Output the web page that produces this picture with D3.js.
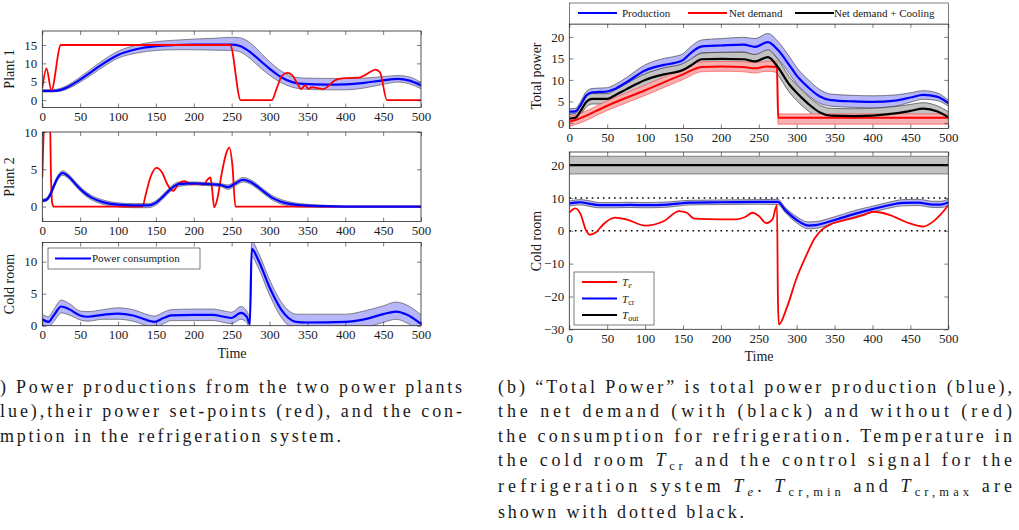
<!DOCTYPE html>
<html>
<head>
<meta charset="utf-8">
<script src="https://cdn.jsdelivr.net/npm/d3@7"></script>
<style>
    body { margin: 0; background: #fff; }
    svg text { fill: #1a1a1a; font-family: "Liberation Serif", "Times New Roman", serif; }
    .axis text { font-size: 13px; }
    .axis line { stroke: #262626; stroke-width: 0.6; }
    .axis path { display: none; }
    .frame { fill: none; stroke: #262626; stroke-width: 0.8; }
    .label { font-size: 14px; }
    .legend text { font-size: 11px; }
    .caption { font-size: 18px; }
</style>
</head>
<body>
<script>
/* global d3 */

var width = 1019;
var height = 530;

var xTicks = [0, 50, 100, 150, 200, 250, 300, 350, 400, 450, 500];

// Plant 1: production (mean + band) and set-point
var p1Time = [0, 10, 20, 30, 40, 50, 60, 75, 100, 125, 150, 175, 200, 225, 250, 260, 275, 290, 300, 315, 330, 345, 375, 400, 425, 450, 470, 485, 500];
var p1Mean = [2.5, 2.5, 2.6, 3.2, 4.3, 5.6, 7.0, 9.2, 12.3, 13.9, 14.7, 15.0, 15.1, 15.1, 15.1, 14.8, 13.0, 10.3, 8.6, 6.3, 4.9, 4.4, 4.2, 4.3, 4.7, 5.4, 5.8, 5.3, 4.0];
var p1Up = [2.8, 2.8, 3.0, 3.7, 4.9, 6.3, 7.8, 10.1, 13.3, 15.0, 15.9, 16.3, 16.6, 16.8, 17.1, 17.0, 15.5, 12.5, 10.5, 8.0, 6.4, 6.0, 5.9, 5.9, 6.0, 6.4, 6.7, 6.3, 4.8];
var p1Lo = [2.2, 2.2, 2.3, 2.8, 3.7, 4.9, 6.2, 8.3, 11.4, 12.8, 13.5, 13.7, 13.7, 13.6, 13.5, 13.2, 11.2, 8.4, 6.8, 4.8, 3.5, 3.0, 2.8, 2.8, 3.3, 4.3, 4.9, 4.4, 3.1];
var p1SetTime = [0, 5.5, 12, 24.5, 248, 262, 303, 310, 316, 323, 330, 336, 342, 347, 351, 356, 362, 371, 378, 385, 392, 402, 418, 426, 433, 440, 446, 455, 500];
var p1Set = [3.3, 8.6, 2.7, 15, 15, 0, 0, 3.5, 6.5, 7.4, 6.8, 4.8, 3.0, 4.1, 3.1, 3.5, 3.3, 3.0, 3.9, 5.2, 5.8, 6.0, 6.1, 6.8, 7.7, 8.3, 7.5, 0, 0];

// Plant 2
var p2Time = [0, 5, 10, 15, 20, 27, 35, 45, 55, 65, 80, 100, 120, 140, 150, 160, 170, 180, 200, 220, 235, 245, 255, 265, 275, 290, 305, 320, 340, 370, 400, 500];
var p2Mean = [0.8, 0.9, 1.5, 2.7, 3.8, 4.5, 4.0, 2.9, 1.9, 1.2, 0.6, 0.25, 0.15, 0.15, 0.5, 1.4, 2.4, 3.0, 3.1, 3.0, 2.9, 2.6, 3.1, 3.6, 3.3, 2.2, 1.1, 0.5, 0.2, 0.05, 0, 0];
var p2Up = [1.0, 1.1, 1.8, 3.0, 4.1, 4.8, 4.3, 3.2, 2.2, 1.5, 0.9, 0.5, 0.4, 0.4, 0.8, 1.7, 2.7, 3.3, 3.3, 3.2, 3.1, 2.9, 3.4, 3.9, 3.6, 2.5, 1.4, 0.8, 0.4, 0.2, 0.05, 0.05];
var p2Lo = [0.6, 0.7, 1.2, 2.4, 3.5, 4.2, 3.7, 2.6, 1.6, 0.9, 0.3, -0.05, -0.15, -0.15, 0.2, 1.1, 2.1, 2.7, 2.9, 2.8, 2.7, 2.3, 2.8, 3.3, 3.0, 1.9, 0.8, 0.2, -0.05, -0.1, -0.05, -0.05];
var p2SetTime = [0, 1.5, 3, 10, 11.5, 13, 15, 132, 137, 143, 151, 158, 165, 173, 180, 188, 197, 206, 213, 218, 222, 224, 227, 231, 237, 243, 247, 251, 255, 500];
var p2Set = [3.9, 9, 12, 12, 4, 0.5, 0, 0, 1.8, 4.0, 5.2, 4.6, 3.0, 2.1, 3.1, 3.4, 3.0, 3.1, 2.9, 3.6, 3.9, 2.5, -0.1, 1.0, 4.5, 7.2, 7.9, 5.5, 0, 0];

// Cold room power consumption
var crpTime = [0, 8, 15, 25, 35, 50, 60, 80, 100, 120, 140, 148, 160, 170, 200, 225, 240, 250, 262, 270, 274, 276.5, 285, 300, 315, 325, 335, 350, 400, 425, 450, 467, 480, 500];
var crpMean = [1.0, 0.6, 1.6, 3.0, 2.6, 1.6, 1.4, 1.7, 1.9, 1.6, 0.8, 0.6, 1.2, 1.6, 1.7, 1.7, 1.4, 1.2, 2.0, 1.4, 0.3, 12.0, 10.3, 6.0, 2.6, 1.2, 0.6, 0.5, 0.6, 1.0, 1.8, 2.2, 1.8, 0.3];
var crpUp = [1.8, 1.4, 2.5, 4.0, 3.5, 2.3, 2.2, 2.5, 2.8, 2.5, 1.7, 1.5, 2.1, 2.5, 2.6, 2.6, 2.3, 2.1, 3.0, 2.3, 1.4, 13.2, 11.5, 7.2, 3.8, 2.4, 1.8, 1.8, 1.8, 2.3, 3.1, 3.7, 3.3, 1.7];
var crpLo = [0.2, -0.2, 0.6, 2.0, 1.7, 0.9, 0.7, 1.0, 1.0, 0.7, -0.1, -0.3, 0.3, 0.8, 0.8, 0.8, 0.5, 0.3, 1.0, 0.5, -0.8, 10.8, 9.1, 4.8, 1.4, 0, -0.6, -0.8, -0.6, -0.3, 0.5, 1.0, 0.5, -1.0];

// Total power: production
var prodTime = [0, 8, 15, 22, 30, 40, 50, 60, 75, 100, 125, 140, 150, 160, 175, 200, 230, 245, 262, 275, 290, 300, 315, 330, 345, 375, 400, 430, 450, 467, 485, 500];
var prodMean = [2.6, 2.7, 4.2, 6.3, 7.1, 7.2, 7.3, 7.9, 9.4, 12.2, 13.5, 14.0, 14.6, 16.2, 17.8, 18.0, 18.2, 17.7, 18.8, 17.0, 13.5, 11.0, 8.3, 6.2, 5.3, 5.0, 4.9, 5.2, 5.9, 6.5, 6.1, 4.6];
var prodUp = [3.3, 3.4, 5.0, 7.2, 8.0, 8.1, 8.2, 8.9, 10.5, 13.5, 15.0, 15.5, 16.1, 17.7, 19.3, 19.6, 19.9, 19.6, 20.8, 19.0, 15.5, 12.9, 10.1, 7.8, 6.7, 6.4, 6.3, 6.5, 7.0, 7.5, 7.0, 5.3];
var prodLo = [1.9, 2.0, 3.4, 5.4, 6.2, 6.3, 6.4, 6.9, 8.3, 10.9, 12.0, 12.5, 13.1, 14.7, 16.3, 16.4, 16.5, 15.8, 16.8, 15.0, 11.5, 9.1, 6.5, 4.6, 3.9, 3.6, 3.5, 3.9, 4.8, 5.5, 5.2, 3.9];

// Total power: net demand + cooling
var coolTime = [0, 8, 15, 22, 30, 40, 50, 60, 75, 100, 125, 150, 160, 175, 200, 230, 245, 262, 275, 290, 300, 315, 330, 345, 375, 400, 430, 450, 467, 485, 500];
var coolMean = [1.0, 1.2, 2.8, 4.8, 5.6, 5.6, 5.6, 6.4, 7.8, 10.0, 11.3, 12.3, 13.3, 14.8, 14.9, 14.8, 14.3, 15.3, 13.0, 9.0, 7.0, 4.5, 2.5, 1.7, 1.6, 1.7, 2.2, 2.8, 3.3, 2.7, 1.3];
var coolUp = [2.0, 2.2, 3.9, 6.0, 6.8, 6.8, 6.8, 7.6, 9.1, 11.4, 12.8, 13.8, 14.8, 16.2, 16.4, 16.4, 15.9, 17.0, 14.8, 10.8, 8.8, 6.2, 4.2, 3.4, 3.3, 3.4, 3.8, 4.3, 4.7, 4.0, 2.6];
var coolLo = [0.0, 0.2, 1.8, 3.6, 4.4, 4.4, 4.4, 5.2, 6.5, 8.6, 9.8, 10.8, 11.8, 13.3, 13.4, 13.3, 12.7, 13.6, 11.2, 7.2, 5.2, 2.8, 0.8, 0.0, -0.1, 0.0, 0.6, 1.3, 1.9, 1.4, 0.0];

// Total power: net demand
var netTime = [0, 10, 50, 100, 150, 175, 200, 230, 245, 260, 274, 275.5, 500];
var netMean = [0.3, 0.8, 4.0, 7.6, 11.3, 13.0, 13.1, 13.0, 12.7, 13.1, 13.0, 1.2, 1.2];
var netUp = [1.3, 1.9, 5.1, 8.8, 12.5, 14.2, 14.3, 14.2, 14.0, 14.3, 14.3, 2.1, 2.1];
var netLo = [-0.8, -0.3, 2.9, 6.4, 10.1, 11.9, 12.0, 11.9, 11.6, 12.0, 11.8, -0.3, -0.3];

// Cold room temperatures
var tcrTime = [0, 8, 15, 25, 40, 60, 80, 100, 130, 160, 200, 250, 275, 285, 300, 315, 325, 340, 360, 380, 400, 420, 440, 460, 480, 490, 500];
var tcrMean = [8.3, 8.6, 8.7, 8.3, 7.8, 7.8, 7.9, 7.8, 8.0, 8.6, 8.7, 8.8, 8.8, 6.3, 3.3, 1.6, 1.7, 2.6, 4.0, 5.4, 6.6, 7.7, 8.5, 8.6, 8.0, 8.0, 8.6];
var tcrUp = [9.1, 9.4, 9.5, 9.2, 8.6, 8.6, 8.7, 8.6, 8.8, 9.3, 9.4, 9.5, 9.6, 7.1, 4.3, 2.7, 2.8, 3.6, 5.0, 6.4, 7.5, 8.6, 9.5, 9.6, 9.0, 9.0, 9.7];
var tcrLo = [7.5, 7.8, 7.9, 7.5, 7.0, 7.0, 7.1, 7.0, 7.2, 7.9, 8.0, 8.1, 8.0, 5.5, 2.4, 0.6, 0.7, 1.6, 3.1, 4.5, 5.7, 6.8, 7.6, 7.7, 7.1, 7.1, 7.6];
var teTime = [0, 8, 15, 22, 27, 35, 45, 60, 75, 100, 125, 145, 155, 165, 200, 220, 232, 242, 250, 260, 268, 274, 275.3, 276.5, 287, 300, 313, 324, 333, 348, 370, 388, 401, 423, 445, 467, 480, 490, 500];
var teVal = [5.5, 6.8, 5.0, 0.2, -1.2, -0.5, 2.0, 4.0, 3.5, 1.6, 3.0, 6.0, 5.5, 3.7, 3.5, 3.5, 4.2, 5.5, 4.5, 2.3, 3.5, 7.8, -22, -28.5, -23.4, -14.3, -7.3, -2.2, 0.3, 2.3, 3.6, 4.8, 5.8, 4.8, 2.6, 1.3, 2.8, 5.0, 7.8];
var toutTime = [0, 500];
var toutMean = [20, 20];
var toutUp = [22.7, 22.7];
var toutLo = [17.3, 17.3];
var crLimits = [0, 10];

var svg = d3.select("body")
        .append("svg")
        .attr("width", width)
        .attr("height", height);

svg.append("rect").attr("width", width).attr("height", height).attr("fill", "#fff");

var blueFill = "#b6b6f8",
        grayFill = "#c2c2c2",
        redFill = "#f7b0b0";

function makePanel(id, left, top, right, bottom, yDomain, yTicks) {
    var w = right - left, h = bottom - top;
    var p = {w: w, h: h, yTicks: yTicks};
    p.x = d3.scaleLinear().domain([0, 500]).range([0, w]);
    p.y = d3.scaleLinear().domain(yDomain).range([h, 0]);
    p.g = svg.append("g").attr("transform", "translate(" + left + "," + top + ")");
    p.g.append("clipPath").attr("id", id)
            .append("rect").attr("width", w).attr("height", h);
    p.plot = p.g.append("g").attr("clip-path", "url(#" + id + ")");
    return p;
}

function finishPanel(p) {
    p.g.append("g").classed("axis", true)
            .attr("transform", "translate(0," + p.h + ")")
            .call(d3.axisBottom(p.x).tickValues(xTicks).tickSizeInner(-4).tickSizeOuter(0).tickPadding(4));
    p.g.append("g").classed("axis", true)
            .call(d3.axisTop(p.x).tickValues(xTicks).tickSizeInner(-4).tickSizeOuter(0).tickFormat(""));
    p.g.append("g").classed("axis", true)
            .call(d3.axisLeft(p.y).tickValues(p.yTicks).tickSizeInner(-4).tickSizeOuter(0).tickPadding(5));
    p.g.append("g").classed("axis", true)
            .attr("transform", "translate(" + p.w + ",0)")
            .call(d3.axisRight(p.y).tickValues(p.yTicks).tickSizeInner(-4).tickSizeOuter(0).tickFormat(""));
    p.g.append("rect").classed("frame", true).attr("width", p.w).attr("height", p.h);
}

function drawBand(p, t, up, lo, fill, edge) {
    var rows = t.map(function (d, i) {
        return {t: d, up: up[i], lo: lo[i]};
    });
    var area = d3.area().curve(d3.curveMonotoneX)
            .x(function (d) { return p.x(d.t); })
            .y0(function (d) { return p.y(d.lo); })
            .y1(function (d) { return p.y(d.up); });
    p.plot.append("path").datum(rows).attr("d", area).attr("fill", fill);
    ["up", "lo"].forEach(function (k) {
        var line = d3.line().curve(d3.curveMonotoneX)
                .x(function (d) { return p.x(d.t); })
                .y(function (d) { return p.y(d[k]); });
        p.plot.append("path").datum(rows).attr("d", line)
                .attr("fill", "none").attr("stroke", edge).attr("stroke-width", 0.6);
    });
}

function drawLine(p, t, v, color, w) {
    var rows = t.map(function (d, i) {
        return {t: d, v: v[i]};
    });
    var line = d3.line().curve(d3.curveMonotoneX)
            .x(function (d) { return p.x(d.t); })
            .y(function (d) { return p.y(d.v); });
    p.plot.append("path").datum(rows).attr("d", line)
            .attr("fill", "none").attr("stroke", color).attr("stroke-width", w)
            .attr("stroke-linejoin", "round");
}

function yLabel(x, y, txt) {
    svg.append("text").classed("label", true)
            .attr("transform", "translate(" + x + "," + y + ") rotate(-90)")
            .attr("text-anchor", "middle").text(txt);
}

// ---- left column
var pl1 = makePanel("c1", 42.3, 31, 421, 107.5, [-2, 18.8], [0, 5, 10, 15]);
drawBand(pl1, p1Time, p1Up, p1Lo, blueFill, "#444");
drawLine(pl1, p1Time, p1Mean, "#0000ff", 2.2);
drawLine(pl1, p1SetTime, p1Set, "#ff0000", 1.8);
finishPanel(pl1);

var pl2 = makePanel("c2", 42.3, 132, 421, 221.5, [-2, 10], [0, 5, 10]);
drawBand(pl2, p2Time, p2Up, p2Lo, blueFill, "#444");
drawLine(pl2, p2SetTime, p2Set, "#ff0000", 1.8);
drawLine(pl2, p2Time, p2Mean, "#0000ff", 2.2);
finishPanel(pl2);

var pl3 = makePanel("c3", 42.3, 242.5, 421, 325.7, [0, 13], [0, 5, 10]);
drawBand(pl3, crpTime, crpUp, crpLo, blueFill, "#444");
drawLine(pl3, crpTime, crpMean, "#0000ff", 2.2);
finishPanel(pl3);

yLabel(14, 69, "Plant 1");
yLabel(14, 177, "Plant 2");
yLabel(14, 284, "Cold room");
svg.append("text").classed("label", true).attr("x", 232).attr("y", 358)
        .attr("text-anchor", "middle").text("Time");

var lg1 = svg.append("g").classed("legend", true);
lg1.append("rect").attr("x", 48).attr("y", 248).attr("width", 152).attr("height", 21)
        .attr("fill", "#fff").attr("stroke", "#262626").attr("stroke-width", 0.6);
lg1.append("line").attr("x1", 55).attr("x2", 91).attr("y1", 258.5).attr("y2", 258.5)
        .attr("stroke", "#0000ff").attr("stroke-width", 2.2);
lg1.append("text").attr("x", 92).attr("y", 262).text("Power consumption");

// ---- right column
var pr1 = makePanel("c4", 569.3, 24, 948.3, 128.5, [-1.3, 23], [0, 5, 10, 15, 20]);
drawBand(pr1, prodTime, prodUp, prodLo, blueFill, "#333");
drawBand(pr1, coolTime, coolUp, coolLo, grayFill, "#222");
drawBand(pr1, netTime, netUp, netLo, redFill, "#ff4040");
drawLine(pr1, netTime, netMean, "#ff0000", 2);
drawLine(pr1, coolTime, coolMean, "#000", 2.2);
drawLine(pr1, prodTime, prodMean, "#0000ff", 2.2);
finishPanel(pr1);

var pr2 = makePanel("c5", 569.3, 152, 948.3, 329.3, [-30, 24], [-30, -20, -10, 0, 10, 20]);
drawBand(pr2, toutTime, toutUp, toutLo, grayFill, "#444");
drawLine(pr2, toutTime, toutMean, "#000", 2.2);
crLimits.forEach(function (v) {
    pr2.plot.append("line").attr("x1", 0).attr("x2", pr2.w)
            .attr("y1", pr2.y(v)).attr("y2", pr2.y(v))
            .attr("stroke", "#000").attr("stroke-width", 1.6)
            .attr("stroke-dasharray", "1.6,4");
});
drawBand(pr2, tcrTime, tcrUp, tcrLo, blueFill, "#333");
drawLine(pr2, teTime, teVal, "#ff0000", 1.8);
drawLine(pr2, tcrTime, tcrMean, "#0000ff", 2.2);
finishPanel(pr2);

yLabel(541, 76, "Total power");
yLabel(541, 241, "Cold room");
svg.append("text").classed("label", true).attr("x", 759).attr("y", 361)
        .attr("text-anchor", "middle").text("Time");

var lg2 = svg.append("g").classed("legend", true);
lg2.append("rect").attr("x", 569.3).attr("y", 3).attr("width", 379).attr("height", 21)
        .attr("fill", "#fff").attr("stroke", "#262626").attr("stroke-width", 0.6);
[
    {x1: 578, x2: 617, tx: 622, c: "#0000ff", t: "Production"},
    {x1: 688, x2: 727, tx: 729, c: "#ff0000", t: "Net demand"},
    {x1: 795, x2: 834, tx: 834, c: "#000", t: "Net demand + Cooling"}
].forEach(function (d) {
    lg2.append("line").attr("x1", d.x1).attr("x2", d.x2).attr("y1", 13).attr("y2", 13)
            .attr("stroke", d.c).attr("stroke-width", 2.2);
    lg2.append("text").attr("x", d.tx).attr("y", 16.5).text(d.t);
});

var lg3 = svg.append("g").classed("legend", true);
lg3.append("rect").attr("x", 574).attr("y", 272).attr("width", 80).attr("height", 53)
        .attr("fill", "#fff").attr("stroke", "#262626").attr("stroke-width", 0.6);
[
    {y: 282, c: "#ff0000", s: "e", it: true},
    {y: 298.5, c: "#0000ff", s: "cr", it: false},
    {y: 315, c: "#000", s: "out", it: false}
].forEach(function (d) {
    lg3.append("line").attr("x1", 582).attr("x2", 617).attr("y1", d.y).attr("y2", d.y)
            .attr("stroke", d.c).attr("stroke-width", 2.2);
    var t = lg3.append("text").attr("x", 622).attr("y", d.y + 4);
    t.append("tspan").attr("font-style", "italic").text("T");
    t.append("tspan").attr("font-size", "8px").attr("dy", 2)
            .attr("font-style", d.it ? "italic" : "normal").text(d.s);
});

// ---- captions
function captionLine(x, y, len, parts) {
    var t = svg.append("text").classed("caption", true)
            .attr("x", x).attr("y", y)
            .attr("textLength", len).attr("lengthAdjust", "spacing");
    parts.forEach(function (p) {
        if (typeof p === "string") {
            t.append("tspan").text(p);
        } else {
            t.append("tspan").attr("font-style", "italic").text("T");
            t.append("tspan").attr("font-size", "12.5px").attr("dy", 4)
                    .attr("font-style", p.it ? "italic" : "normal").text(p.sub);
            t.append("tspan").attr("dy", -4).text(p.after || "");
        }
    });
}

captionLine(0, 393, 462, [") Power productions from the two power plants"]);
captionLine(0, 417, 462, ["lue),their power set-points (red), and the con-"]);
captionLine(0, 442, 341, ["mption in the refrigeration system."]);

captionLine(498, 393, 514, ["(b) \u201cTotal Power\u201d is total power production (blue),"]);
captionLine(498, 417, 514, ["the net demand (with (black) and without (red)"]);
captionLine(498, 442, 514, ["the consumption for refrigeration. Temperature in"]);
captionLine(498, 466, 514, ["the cold room ", {sub: "cr", after: " and the control signal for the"}]);
captionLine(498, 492, 514, ["refrigeration system ", {sub: "e", it: true, after: ".  "},
    {sub: "cr,min", after: " and "}, {sub: "cr,max", after: " are"}]);
captionLine(498, 518, 246, ["shown with dotted black."]);
</script>
</body>
</html>
